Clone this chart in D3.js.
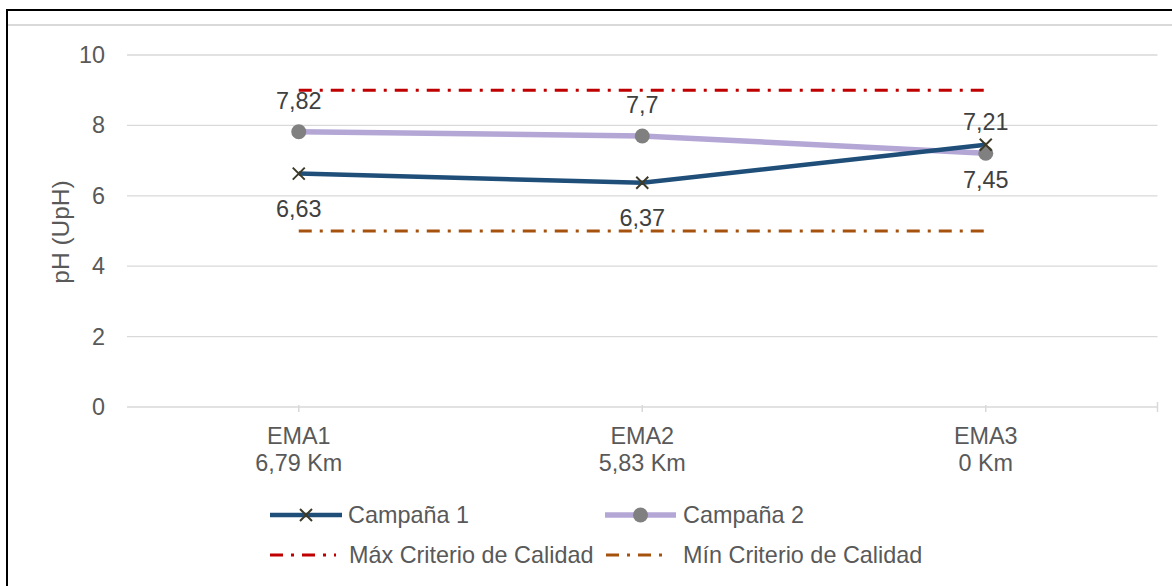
<!DOCTYPE html>
<html>
<head>
<meta charset="utf-8">
<script src="https://cdn.jsdelivr.net/npm/d3@7"></script>
<style>
  html, body { margin: 0; padding: 0; background: #fff; }
  svg { display: block; font-family: "Liberation Sans", Arial, sans-serif; }
</style>
</head>
<body>
<svg id="chart" width="1172" height="586"></svg>
<script>
// Stations along the river (name + distance)
const categories = ["EMA1", "EMA2", "EMA3"];
const distances = ["6,79 Km", "5,83 Km", "0 Km"];

// pH measured in each campaign
const campana1 = [6.63, 6.37, 7.45];
const campana2 = [7.82, 7.7, 7.21];

// Quality criteria limits
const maxCriterio = [9, 9, 9];
const minCriterio = [5, 5, 5];

const yTicks = [0, 2, 4, 6, 8, 10];
const seriesNames = ["Campaña 1", "Campaña 2", "Máx Criterio de Calidad", "Mín Criterio de Calidad"];

const svg = d3.select("#chart");
const fmt = v => String(v).replace(".", ",");
const FS = 23.4;

// outer frame
svg.append("rect").attr("x", 7).attr("y", 10).attr("width", 1200).attr("height", 620)
  .attr("fill", "none").attr("stroke", "#000").attr("stroke-width", 2);
svg.append("line").attr("x1", 8).attr("x2", 1172).attr("y1", 25).attr("y2", 25)
  .attr("stroke", "#d9d9d9").attr("stroke-width", 2);

const x = d3.scaleBand().domain(categories).range([127, 1157.5]).padding(0);
const cx = c => x(c) + x.bandwidth() / 2;
const y = d3.scaleLinear().domain([0, 10]).range([407, 55]);

// gridlines
svg.append("g").selectAll("line").data(yTicks.filter(t => t > 0)).join("line")
  .attr("x1", 127).attr("x2", 1157.5)
  .attr("y1", d => y(d)).attr("y2", d => y(d))
  .attr("stroke", "#d9d9d9").attr("stroke-width", 1.3);

// y axis labels
const yAxis = svg.append("g").attr("transform", "translate(105,0)")
  .call(d3.axisLeft(y).tickValues(yTicks).tickSize(0).tickPadding(0));
yAxis.select(".domain").remove();
yAxis.selectAll("text").attr("font-size", FS).attr("fill", "#595959")
  .attr("font-family", "Liberation Sans, Arial, sans-serif");

// x axis
const xAxisG = svg.append("g").attr("transform", `translate(0,${y(0)})`);
xAxisG.append("line").attr("x1", 127).attr("x2", 1157.5).attr("y1", 0).attr("y2", 0)
  .attr("stroke", "#d9d9d9").attr("stroke-width", 1.5);
xAxisG.selectAll("line.tick").data(categories).join("line").attr("class", "tick")
  .attr("x1", d => cx(d)).attr("x2", d => cx(d)).attr("y1", -2).attr("y2", 5)
  .attr("stroke", "#d9d9d9").attr("stroke-width", 1.5);
xAxisG.append("line").attr("x1", 1157.5).attr("x2", 1157.5).attr("y1", -5).attr("y2", 5)
  .attr("stroke", "#d9d9d9").attr("stroke-width", 1.5);
const xl = xAxisG.selectAll("text.cat").data(categories).join("text").attr("class", "cat")
  .attr("x", d => cx(d)).attr("text-anchor", "middle")
  .attr("font-size", FS).attr("fill", "#595959");
xl.append("tspan").attr("x", d => cx(d)).attr("y", 37).text(d => d);
xl.append("tspan").attr("x", d => cx(d)).attr("y", 64).text((d, i) => distances[i]);

// y axis title
svg.append("text").attr("transform", "translate(69,232) rotate(-90)")
  .attr("text-anchor", "middle").attr("font-size", 24.5).attr("fill", "#595959")
  .text("pH (UpH)");

const line = d3.line().x((d, i) => cx(categories[i])).y(d => y(d));

// criteria lines
const dashDot = "13,8,3,8";
const minColor = "#a5520f";
svg.append("path").datum(maxCriterio).attr("d", line).attr("fill", "none")
  .attr("stroke", "#c00000").attr("stroke-width", 3).attr("stroke-dasharray", dashDot);
svg.append("path").datum(minCriterio).attr("d", line).attr("fill", "none")
  .attr("stroke", minColor).attr("stroke-width", 3).attr("stroke-dasharray", dashDot);

// series lines
svg.append("path").datum(campana2).attr("d", line).attr("fill", "none")
  .attr("stroke", "#b4a7d6").attr("stroke-width", 5.5);
svg.append("path").datum(campana1).attr("d", line).attr("fill", "none")
  .attr("stroke", "#1f4e79").attr("stroke-width", 4.5);

function xMarker(g, px, py) {
  const s = 6;
  g.append("path")
    .attr("d", `M${px - s},${py - s}L${px + s},${py + s}M${px - s},${py + s}L${px + s},${py - s}`)
    .attr("stroke", "#3d3a28").attr("stroke-width", 2).attr("fill", "none");
}

// markers
svg.append("g").selectAll("circle").data(campana2).join("circle")
  .attr("cx", (d, i) => cx(categories[i])).attr("cy", d => y(d)).attr("r", 7.5)
  .attr("fill", "#808080");
const m1 = svg.append("g");
campana1.forEach((d, i) => xMarker(m1, cx(categories[i]), y(d)));

// data labels: campaign 2 above, campaign 1 below
svg.append("g").selectAll("text").data(campana2).join("text")
  .attr("x", (d, i) => cx(categories[i])).attr("y", d => y(d) - 31)
  .attr("dy", "0.35em").attr("text-anchor", "middle")
  .attr("font-size", FS).attr("fill", "#404040").text(d => fmt(d));
svg.append("g").selectAll("text").data(campana1).join("text")
  .attr("x", (d, i) => cx(categories[i])).attr("y", d => y(d) + 35)
  .attr("dy", "0.35em").attr("text-anchor", "middle")
  .attr("font-size", FS).attr("fill", "#404040").text(d => fmt(d));

// legend
const leg = svg.append("g");
const legItems = [
  { name: seriesNames[0], x0: 270, x1: 342, tx: 348, y: 515, color: "#1f4e79", w: 4.5, mark: "x" },
  { name: seriesNames[1], x0: 605, x1: 676, tx: 683, y: 515, color: "#b4a7d6", w: 5.5, mark: "o" },
  { name: seriesNames[2], x0: 270, x1: 336, tx: 349, y: 555, color: "#c00000", w: 3, dash: dashDot },
  { name: seriesNames[3], x0: 606, x1: 670, tx: 683, y: 555, color: minColor, w: 3, dash: dashDot }
];
legItems.forEach(it => {
  const l = leg.append("line").attr("x1", it.x0).attr("x2", it.x1)
    .attr("y1", it.y).attr("y2", it.y)
    .attr("stroke", it.color).attr("stroke-width", it.w);
  if (it.dash) l.attr("stroke-dasharray", it.dash);
  const mx = (it.x0 + it.x1) / 2;
  if (it.mark === "x") xMarker(leg, mx, it.y);
  if (it.mark === "o") leg.append("circle").attr("cx", mx).attr("cy", it.y).attr("r", 7.5).attr("fill", "#808080");
  leg.append("text").attr("x", it.tx).attr("y", it.y).attr("dy", "0.35em")
    .attr("font-size", FS).attr("fill", "#595959").text(it.name);
});
</script>
</body>
</html>
